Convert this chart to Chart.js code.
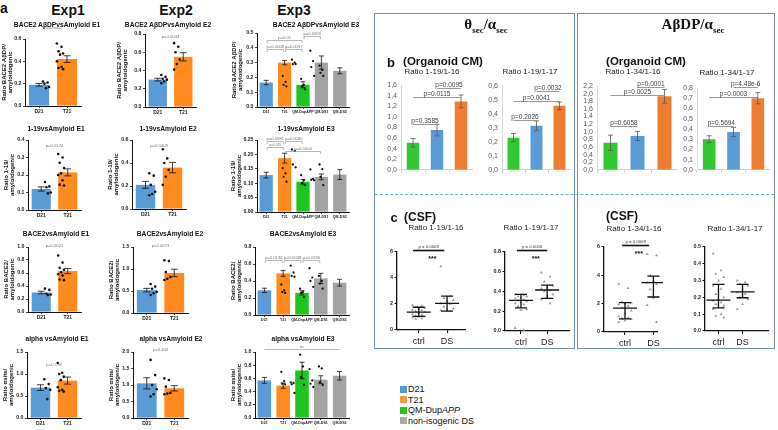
<!DOCTYPE html>
<html>
<head>
<meta charset="utf-8">
<script src="https://cdn.jsdelivr.net/npm/chart.js@4.4.0/dist/chart.umd.min.js"></script>
<style>
  body { margin: 0; background: #fff; }
  #page { position: relative; width: 778px; height: 430px; overflow: hidden; font-family: 'Liberation Sans', Arial, sans-serif; color: #111; }
  canvas { position: absolute; }
  .t { position: absolute; white-space: nowrap; transform: translate(-50%, -50%); line-height: 1; }
  .box { position: absolute; border: 1.3px solid #6d8fbd; box-sizing: border-box; }
  .sq { position: absolute; width: 7px; height: 7px; }
  .lg { position: absolute; font-size: 9px; line-height: 1; transform: translateY(-50%); }
</style>
</head>
<body>
<div id="page"></div>
<script>
// ---------- data ----------
const grp2 = ['D21', 'T21'];
const grp5 = ['D21', 'T21', 'QM-DupAPP', 'QM-DS1', 'QM-DS2'];

// BACE2 AβDP vs amyloidogenic
const dpE1Mean = [0.19, 0.42], dpE1Sem = [0.012, 0.03];
const dpE1Pts = [[0.22, 0.21, 0.20, 0.17, 0.16], [0.56, 0.53, 0.49, 0.47, 0.46, 0.40, 0.35, 0.34, 0.33]];
const dpE2Mean = [0.30, 0.55], dpE2Sem = [0.015, 0.045];
const dpE2Pts = [[0.35, 0.33, 0.31, 0.30, 0.28, 0.26], [0.70, 0.66, 0.60, 0.52, 0.47, 0.41]];
const dpE3Mean = [0.165, 0.30, 0.15, 0.30, 0.245], dpE3Sem = [0.015, 0.015, 0.02, 0.045, 0.02];
const dpE3Pts = [[0.21, 0.17, 0.15, 0.14], [0.32, 0.30, 0.29, 0.29], [0.19, 0.15, 0.14, 0.12], [0.38, 0.31, 0.27, 0.21], [0.28, 0.25, 0.23, 0.21]];
const dpP = ['p=0.0002', 'p=0.0044', 'p=0.0008', 'p=0.0057', 'p=0.01', 'p=0.0056'];

// 1-19 vs amyloidogenic
const n19E1Mean = [0.12, 0.215], n19E1Sem = [0.012, 0.02];
const n19E1Pts = [[0.16, 0.135, 0.13, 0.10, 0.095], [0.32, 0.30, 0.27, 0.24, 0.21, 0.20, 0.17, 0.145, 0.14]];
const n19E2Mean = [0.21, 0.36], n19E2Sem = [0.03, 0.045];
const n19E2Pts = [[0.31, 0.29, 0.21, 0.15, 0.13, 0.12], [0.52, 0.44, 0.40, 0.34, 0.28, 0.21]];
const n19E3Mean = [0.128, 0.187, 0.105, 0.122, 0.13], n19E3Sem = [0.01, 0.017, 0.008, 0.01, 0.017];
const n19E3Pts = [[0.152, 0.134, 0.122, 0.105], [0.217, 0.212, 0.165, 0.155], [0.128, 0.11, 0.10, 0.093], [0.148, 0.115, 0.112, 0.110], [0.165, 0.149, 0.122, 0.093]];
const n19P = ['p=0.0174', 'p=0.0408', 'p=0.0881', 'p=0.0080', 'p=0.025', 'p=0.0404'];

// BACE2 vs amyloidogenic
const bcE1Mean = [0.30, 0.63], bcE1Sem = [0.02, 0.04];
const bcE1Pts = [[0.36, 0.34, 0.28, 0.27, 0.26], [0.87, 0.76, 0.68, 0.65, 0.61, 0.58, 0.56, 0.50, 0.49]];
const bcE2Mean = [0.52, 0.91], bcE2Sem = [0.04, 0.085];
const bcE2Pts = [[0.66, 0.60, 0.55, 0.48, 0.45, 0.41], [1.2, 1.18, 0.93, 0.82, 0.78, 0.75]];
const bcE3Mean = [0.29, 0.49, 0.26, 0.43, 0.38], bcE3Sem = [0.025, 0.035, 0.025, 0.06, 0.04];
const bcE3Pts = [[0.36, 0.29, 0.27, 0.26], [0.58, 0.50, 0.46, 0.45], [0.31, 0.27, 0.26, 0.21], [0.55, 0.44, 0.40, 0.33], [0.46, 0.40, 0.37, 0.31]];
const bcP = ['p=0.0021', 'p=0.0073', 'p=0.0136', 'p=0.0038', 'p=0.0336'];

// alpha vs amyloidogenic
const alE1Mean = [0.69, 0.85], alE1Sem = [0.065, 0.08];
const alE1Pts = [[0.88, 0.77, 0.68, 0.64, 0.43], [1.25, 1.03, 1.0, 0.94, 0.86, 0.70, 0.64, 0.62, 0.60]];
const alE2Mean = [1.05, 0.90], alE2Sem = [0.17, 0.08];
const alE2Pts = [[1.76, 1.30, 1.0, 0.87, 0.72, 0.65], [1.2, 1.15, 0.95, 0.76, 0.74, 0.72]];
const alE3Mean = [0.57, 0.49, 0.72, 0.58, 0.64], alE3Sem = [0.045, 0.04, 0.125, 0.06, 0.065];
const alE3Pts = [[0.70, 0.56, 0.52, 0.51], [0.54, 0.53, 0.51, 0.38], [0.96, 0.78, 0.62, 0.50], [0.74, 0.57, 0.52, 0.47], [0.78, 0.75, 0.54, 0.50]];
const alP = ['p=0.178', 'p=0.444', 'ns'];

// organoid CM (b)
const bGroups = ['QM-DupAPP', 'D21', 'T21'];
const b1Mean = [0.51, 0.75, 1.29], b1Err = [0.08, 0.11, 0.12];
const b2Mean = [0.23, 0.315, 0.458], b2Err = [0.03, 0.035, 0.027];
const b3Mean = [0.71, 0.89, 1.93], b3Err = [0.2, 0.12, 0.18];
const b4Mean = [0.30, 0.37, 0.70], b4Err = [0.033, 0.045, 0.055];
const b1P = ['p=0.3585', 'p=0.0115', 'p=0.0095'];
const b2P = ['p=0.2026', 'p=0.0041', 'p=0.0032'];
const b3P = ['p=0.6058', 'p=0.0025', 'p=0.0001'];
const b4P = ['p=0.5694', 'p=0.0003', 'p=4.48e-6'];

// CSF (c)
const cGroups = ['ctrl', 'DS'];
const c1Ctrl = [1.9, 1.85, 1.75, 1.7, 1.6, 1.55, 1.5, 1.45, 1.4, 1.3, 1.2, 1.15, 1.1, 1.05, 1.0, 0.95, 0.9, 0.85];
const c1DS = [4.9, 2.6, 2.45, 2.3, 2.2, 2.05, 2.0, 1.8, 1.65, 1.55, 1.5, 1.45];
const c1Med = [1.38, 2.05], c1Q1 = [1.05, 1.45], c1Q3 = [1.75, 2.6];
const c2Ctrl = [0.37, 0.36, 0.35, 0.35, 0.34, 0.33, 0.32, 0.31, 0.30, 0.29, 0.28, 0.27, 0.25, 0.22, 0.21, 0.03, 0.01];
const c2DS = [0.59, 0.55, 0.50, 0.46, 0.44, 0.43, 0.41, 0.40, 0.37, 0.35, 0.32, 0.28];
const c2Med = [0.31, 0.415], c2Q1 = [0.235, 0.33], c2Q3 = [0.37, 0.465];
const c3Ctrl = [3.4, 3.1, 2.1, 2.05, 2.0, 1.95, 1.85, 1.7, 1.5, 1.3, 1.1, 1.0, 0.95, 0.9, 0.8, 0.7];
const c3DS = [5.5, 5.4, 4.0, 3.9, 3.6, 3.5, 3.4, 3.0, 2.5, 2.4, 1.9, 0.7];
const c3Med = [1.69, 3.48], c3Q1 = [0.92, 2.47], c3Q3 = [2.07, 3.95];
const c4Ctrl = [0.46, 0.36, 0.34, 0.32, 0.30, 0.27, 0.25, 0.22, 0.20, 0.19, 0.18, 0.17, 0.16, 0.15, 0.14, 0.13, 0.10, 0.09, 0.08];
const c4DS = [0.30, 0.29, 0.28, 0.27, 0.25, 0.23, 0.22, 0.20, 0.19, 0.16, 0.13];
const c4Med = [0.184, 0.233], c4Q1 = [0.138, 0.198], c4Q3 = [0.277, 0.277];
const cP = ['p = 0.0009', 'p = 0.0006', 'p = 0.0009'];

// ---------- drawing ----------
const fam = "'Liberation Sans', Arial, sans-serif";
const cBlue = '#5b9bd5', cOrange = '#ff8a1e', cGreen = '#1fc41f', cGray = '#a3a3a3';
const col2 = [cBlue, cOrange];
const col5 = [cBlue, cOrange, cGreen, cGray, cGray];
const bColors = ['#34c734', '#5b9bd5', '#ed7d31'];
const page = document.getElementById('page');

// horizontal spread of the dots inside a group
function spread(k, w) { return ((((k * 3) % 5) - 2) / 2) * w; }

// evenly spaced y ticks from 0 to max (avoids float drop of the last tick)
function yTicks(max, step) {
  return s => {
    const t = [];
    for (let i = 0; i * step <= max + 1e-9; i++) t.push({ value: +(i * step).toFixed(4) });
    s.ticks = t;
  };
}

function makeCanvas(left, top, w, h) {
  const c = document.createElement('canvas');
  c.width = w; c.height = h;
  c.style.left = left + 'px'; c.style.top = top + 'px';
  c.style.width = w + 'px'; c.style.height = h + 'px';
  page.appendChild(c);
  return c.getContext('2d');
}

function txt(x, y, html, css) {
  const d = document.createElement('div');
  d.className = 't';
  d.innerHTML = html;
  d.style.cssText = 'left:' + x + 'px;top:' + y + 'px;' + (css || '');
  page.appendChild(d);
}

const semBars = {
  id: 'semBars',
  afterDatasetsDraw(chart, args, o) {
    if (!o.sem) return;
    const ctx = chart.ctx, ys = chart.scales.y;
    const vals = chart.data.datasets[0].data;
    ctx.save();
    ctx.strokeStyle = o.color; ctx.lineWidth = o.width;
    chart.getDatasetMeta(0).data.forEach((bar, i) => {
      const y1 = ys.getPixelForValue(vals[i] + o.sem[i]);
      const y2 = ys.getPixelForValue(vals[i] - o.sem[i]);
      ctx.beginPath();
      ctx.moveTo(bar.x, y1); ctx.lineTo(bar.x, y2);
      ctx.moveTo(bar.x - o.cap, y1); ctx.lineTo(bar.x + o.cap, y1);
      ctx.moveTo(bar.x - o.cap, y2); ctx.lineTo(bar.x + o.cap, y2);
      ctx.stroke();
    });
    ctx.restore();
  }
};

const pBrackets = {
  id: 'pBrackets',
  afterDatasetsDraw(chart, args, o) {
    if (!o.items) return;
    const ctx = chart.ctx, xs = chart.scales.x, ys = chart.scales.y;
    ctx.save();
    ctx.textAlign = 'center';
    o.items.forEach(it => {
      const x1 = xs.getPixelForValue(it.a), x2 = xs.getPixelForValue(it.b);
      const y = Math.round(ys.getPixelForValue(it.y)) + 0.5;
      ctx.strokeStyle = o.line || o.color;
      ctx.lineWidth = it.s === 'thick' ? 1.6 : (o.lw || 0.6);
      ctx.beginPath();
      if (it.s === 'br') {
        ctx.moveTo(x1 + 1, y + 2.5); ctx.lineTo(x1 + 1, y); ctx.lineTo(x2 - 1, y); ctx.lineTo(x2 - 1, y + 2.5);
      } else if (it.s !== 'tx') {
        ctx.moveTo(x1, y); ctx.lineTo(x2, y);
      }
      ctx.stroke();
      ctx.fillStyle = o.color;
      ctx.textBaseline = 'bottom';
      ctx.font = (it.f || o.font) + 'px ' + fam;
      ctx.fillText(it.t, (x1 + x2) / 2, y - (o.gap || 1));
      if (it.star) {
        ctx.font = 'bold 7px ' + fam;
        ctx.fillStyle = '#111';
        ctx.textBaseline = 'top';
        ctx.fillText(it.star, x1 + (x2 - x1) * 0.62, y + 5);
      }
    });
    ctx.restore();
  }
};

const medIqr = {
  id: 'medIqr',
  afterDatasetsDraw(chart, args, o) {
    if (!o.med) return;
    const ctx = chart.ctx, xs = chart.scales.x, ys = chart.scales.y;
    ctx.save();
    ctx.strokeStyle = '#111'; ctx.lineWidth = 1.3;
    o.med.forEach((m, i) => {
      const x = xs.getPixelForValue(i);
      const ym = ys.getPixelForValue(m), y1 = ys.getPixelForValue(o.q1[i]), y3 = ys.getPixelForValue(o.q3[i]);
      ctx.beginPath();
      ctx.moveTo(x - 12, ym); ctx.lineTo(x + 12, ym);
      ctx.moveTo(x, y1); ctx.lineTo(x, y3);
      ctx.moveTo(x - 6, y1); ctx.lineTo(x + 6, y1);
      ctx.moveTo(x - 6, y3); ctx.lineTo(x + 6, y3);
      ctx.stroke();
    });
    ctx.restore();
  }
};

Chart.register(semBars, pBrackets, medIqr);

const baseOpts = {
  responsive: false,
  animation: false,
  events: []
};

// panel a: bar + dots (GraphPad style)
function aPanel(fr, labels, mean, sem, pts, colors, yMax, yStep, dec, yTitle, notes) {
  const [ax, top, right, bottom, yw] = fr;
  const padTop = 12, xh = 10, n = labels.length, small = n > 2;
  const ctx = makeCanvas(ax - yw, top - padTop, yw + right - ax, padTop + bottom - top + xh);
  const dots = [];
  pts.forEach((g, gi) => g.forEach((v, k) => dots.push({ x: gi + spread(k, small ? 0.2 : 0.22), y: v })));
  new Chart(ctx, {
    type: 'bar',
    data: {
      labels: labels,
      datasets: [
        { data: mean, backgroundColor: colors, grouped: false, barPercentage: 0.72, categoryPercentage: 1, order: 2 },
        { type: 'scatter', data: dots, xAxisID: 'xd', pointRadius: small ? 1.15 : 1.3, backgroundColor: '#111', borderWidth: 0, order: 1 }
      ]
    },
    options: Object.assign({}, baseOpts, {
      layout: { padding: { top: padTop, right: 0, left: 0, bottom: 0 } },
      plugins: {
        legend: { display: false }, tooltip: { enabled: false },
        semBars: { sem: sem, color: '#111', width: 0.8, cap: small ? 2.5 : 3.5 },
        pBrackets: { items: notes, font: 4.2, color: '#777', line: '#888' }
      },
      scales: {
        x: {
          type: 'category', offset: true,
          grid: { drawOnChartArea: false, offset: false, tickLength: 2, color: '#111', lineWidth: 0.8 },
          border: { color: '#111', width: 1 },
          ticks: { autoSkip: false, maxRotation: 0, minRotation: 0, padding: 1, color: '#222',
            font: { family: fam, size: small ? 3.6 : 5, weight: 'bold' } },
          afterFit: s => { s.height = xh; }
        },
        xd: { type: 'linear', display: false, min: -0.5, max: n - 0.5 },
        y: {
          min: 0, max: yMax,
          afterBuildTicks: yTicks(yMax, yStep),
          grid: { drawOnChartArea: false, tickLength: 2, color: '#111', lineWidth: 0.8 },
          border: { color: '#111', width: 1 },
          ticks: { autoSkip: false, padding: 1.5, color: '#222',
            font: { family: fam, size: 5.2, weight: 'bold' }, callback: v => v.toFixed(dec) },
          title: { display: true, text: yTitle, color: '#111', padding: { top: 1, bottom: 0 },
            font: { family: fam, size: 6, weight: 'bold', lineHeight: 1.05 } },
          afterFit: s => { s.width = yw; }
        }
      }
    })
  });
}

// panel b: Excel style bars
function bPanel(fr, mean, err, yMax, yStep, notes) {
  const [ax, top, right, bottom, yw] = fr;
  const padTop = 12, xh = 5;
  const ctx = makeCanvas(ax - yw, top - padTop, yw + right - ax, padTop + bottom - top + xh);
  new Chart(ctx, {
    type: 'bar',
    data: { labels: bGroups, datasets: [{ data: mean, backgroundColor: bColors, grouped: false, barPercentage: 0.52, categoryPercentage: 1 }] },
    options: Object.assign({}, baseOpts, {
      layout: { padding: { top: padTop, right: 0, left: 0, bottom: 0 } },
      plugins: {
        legend: { display: false }, tooltip: { enabled: false },
        semBars: { sem: err, color: '#595959', width: 0.8, cap: 2.5 },
        pBrackets: { items: notes, font: 6.5, color: '#404040', line: '#808080', lw: 0.8, gap: 0.5 }
      },
      scales: {
        x: {
          grid: { drawOnChartArea: false, offset: true, tickLength: 3, color: '#cfcfcf' },
          border: { color: '#cfcfcf' },
          ticks: { display: false },
          afterFit: s => { s.height = xh; }
        },
        y: {
          min: 0, max: yMax,
          afterBuildTicks: yTicks(yMax, yStep),
          grid: { display: false, drawTicks: false, tickLength: 0 },
          border: { display: true, color: '#d9d9d9' },
          ticks: { autoSkip: false, padding: 4, color: '#595959', font: { family: fam, size: 7 },
            callback: v => v.toFixed(1).replace('.', ',') },
          afterFit: s => { s.width = yw; }
        }
      }
    })
  });
}

// panel c: CSF scatter with median + IQR
function cPanel(fr, xr, ctrl, ds, med, q1, q3, yMax, yStep, dec, notes) {
  const [ax, top, right, bottom, yw] = fr;
  const padTop = 12, xh = 17;
  const ctx = makeCanvas(ax - yw, top - padTop, yw + right - ax, padTop + bottom - top + xh);
  const pts = [];
  [ctrl, ds].forEach((g, gi) => g.forEach((v, k) => pts.push({ x: gi + spread(k, 0.22), y: v })));
  new Chart(ctx, {
    type: 'scatter',
    data: { datasets: [{ data: pts, pointStyle: 'triangle', pointRadius: 1.7, backgroundColor: '#9a9a9a', borderColor: '#9a9a9a', borderWidth: 0 }] },
    options: Object.assign({}, baseOpts, {
      layout: { padding: { top: padTop, right: 0, left: 0, bottom: 0 } },
      plugins: {
        legend: { display: false }, tooltip: { enabled: false },
        medIqr: { med: med, q1: q1, q3: q3 },
        pBrackets: { items: notes, font: 4.3, color: '#333', line: '#111', gap: 1.5 }
      },
      scales: {
        x: {
          type: 'linear', min: xr[0], max: xr[1],
          afterBuildTicks: s => { s.ticks = cGroups.map((g, i) => ({ value: i })); },
          grid: { drawOnChartArea: false, tickLength: 3, color: '#111', lineWidth: 1.1 },
          border: { color: '#111', width: 1.3 },
          ticks: { callback: (v, i) => cGroups[i], padding: 3, color: '#222', font: { family: fam, size: 9 } },
          afterFit: s => { s.height = xh; }
        },
        y: {
          min: 0, max: yMax,
          afterBuildTicks: yTicks(yMax, yStep),
          grid: { drawOnChartArea: false, tickLength: 2.5, color: '#111', lineWidth: 1.1 },
          border: { color: '#111', width: 1.3 },
          ticks: { autoSkip: false, padding: 1.5, color: '#222', font: { family: fam, size: 5.4, weight: 'bold' },
            callback: v => v.toFixed(dec) },
          afterFit: s => { s.width = yw; }
        }
      }
    })
  });
}

// ---- section a ----
const tDp = ['Ratio BACE2 AβDP/', 'amyloidogenic'];
const t19 = ['Ratio 1-19/', 'amyloidogenic'];
const tBc = ['Ratio BACE2/', 'amyloidogenic'];
const tAl = ['Ratio αsite/', 'amyloidogenic'];

aPanel([25, 39, 85, 106, 25], grp2, dpE1Mean, dpE1Sem, dpE1Pts, col2, 0.6, 0.2, 1, tDp,
  [{ a: 0, b: 1, y: 0.68, t: dpP[0], s: 'tx' }]);
aPanel([145, 34, 200, 107, 30], grp2, dpE2Mean, dpE2Sem, dpE2Pts, col2, 0.8, 0.2, 1, tDp,
  [{ a: 0, b: 1, y: 0.745, t: dpP[1], s: 'tx' }]);
aPanel([257, 33, 353, 107, 27], grp5, dpE3Mean, dpE3Sem, dpE3Pts, col5, 0.5, 0.1, 1, tDp,
  [{ a: 0, b: 1, y: 0.39, t: dpP[2], s: 'br' }, { a: 1, b: 2, y: 0.39, t: dpP[3], s: 'br' },
   { a: 0, b: 2, y: 0.45, t: dpP[4], s: 'br' }, { a: 2, b: 3, y: 0.48, t: dpP[5], s: 'br' }]);

aPanel([28, 140, 85, 210, 26], grp2, n19E1Mean, n19E1Sem, n19E1Pts, col2, 0.4, 0.1, 1, t19,
  [{ a: 0, b: 1, y: 0.354, t: n19P[0], s: 'tx' }]);
aPanel([132, 140, 190, 209, 26], grp2, n19E2Mean, n19E2Sem, n19E2Pts, col2, 0.6, 0.2, 1, t19,
  [{ a: 0, b: 1, y: 0.53, t: n19P[1], s: 'tx' }]);
aPanel([257, 140, 353, 212, 28], grp5, n19E3Mean, n19E3Sem, n19E3Pts, col5, 0.25, 0.05, 2, t19,
  [{ a: 0, b: 1, y: 0.247, t: n19P[2], s: 'br' }, { a: 1, b: 2, y: 0.247, t: n19P[3], s: 'br' },
   { a: 0, b: 1, y: 0.225, t: n19P[4], s: 'br', f: 3.2 }, { a: 1, b: 3, y: 0.212, t: n19P[5], s: 'br' }]);

aPanel([28, 247, 85, 312, 26], grp2, bcE1Mean, bcE1Sem, bcE1Pts, col2, 1.0, 0.2, 1, tBc,
  [{ a: 0, b: 1, y: 0.98, t: bcP[0], s: 'tx' }]);
aPanel([133, 247, 192, 313, 26], grp2, bcE2Mean, bcE2Sem, bcE2Pts, col2, 1.5, 0.5, 1, tBc,
  [{ a: 0, b: 1, y: 1.48, t: bcP[1], s: 'tx' }]);
aPanel([255, 247, 353, 315, 26], grp5, bcE3Mean, bcE3Sem, bcE3Pts, col5, 0.8, 0.2, 1, tBc,
  [{ a: 0, b: 1, y: 0.65, t: bcP[2], s: 'br' }, { a: 1, b: 2, y: 0.65, t: bcP[3], s: 'br' },
   { a: 2, b: 3, y: 0.65, t: bcP[4], s: 'br' }]);

aPanel([27, 352, 85, 418, 26], grp2, alE1Mean, alE1Sem, alE1Pts, col2, 1.5, 0.5, 1, tAl,
  [{ a: 0, b: 1, y: 1.16, t: alP[0], s: 'tx' }]);
aPanel([133, 352, 192, 418, 26], grp2, alE2Mean, alE2Sem, alE2Pts, col2, 2.0, 0.5, 1, tAl,
  [{ a: 0, b: 1, y: 2.0, t: alP[1], s: 'tx' }]);
aPanel([255, 352, 353, 418, 26], grp5, alE3Mean, alE3Sem, alE3Pts, col5, 1.0, 0.2, 1, tAl,
  [{ a: 0, b: 4, y: 1.045, t: alP[2], s: 'ln' }]);

// ---- section b ----
bPanel([401, 85, 473, 173, 20], b1Mean, b1Err, 1.6, 0.2,
  [{ a: 0, b: 1, y: 0.87, t: b1P[0], s: 'ln' }, { a: 0, b: 2, y: 1.38, t: b1P[1], s: 'ln' }, { a: 1, b: 2, y: 1.55, t: b1P[2], s: 'ln' }]);
bPanel([502, 86, 571, 173, 18], b2Mean, b2Err, 0.6, 0.1,
  [{ a: 0, b: 1, y: 0.36, t: b2P[0], s: 'ln' }, { a: 0, b: 2, y: 0.49, t: b2P[1], s: 'ln' }, { a: 1, b: 2, y: 0.566, t: b2P[2], s: 'ln' }]);
bPanel([597, 86, 678, 173, 19], b3Mean, b3Err, 2.2, 0.2,
  [{ a: 0, b: 1, y: 1.14, t: b3P[0], s: 'ln' }, { a: 0, b: 2, y: 1.97, t: b3P[1], s: 'ln' }, { a: 1, b: 2, y: 2.18, t: b3P[2], s: 'ln' }]);
bPanel([697, 88, 770, 173, 18], b4Mean, b4Err, 0.8, 0.1,
  [{ a: 0, b: 1, y: 0.43, t: b4P[0], s: 'ln' }, { a: 0, b: 2, y: 0.71, t: b4P[1], s: 'ln' }, { a: 1, b: 2, y: 0.81, t: b4P[2], s: 'ln' }]);

// ---- section c ----
cPanel([397, 252, 470, 330, 10], [-0.77, 1.67], c1Ctrl, c1DS, c1Med, c1Q1, c1Q3, 6, 2, 0,
  [{ a: -0.2, b: 0.9, y: 6.15, t: cP[0], s: 'thick', star: '***' }]);
cPanel([505, 252, 574, 331, 13], [-0.61, 1.87], c2Ctrl, c2DS, c2Med, c2Q1, c2Q3, 0.8, 0.2, 1,
  [{ a: -0.15, b: 1.0, y: 0.82, t: cP[1], s: 'thick', star: '***' }]);
cPanel([604, 247, 663, 332, 10], [-0.74, 1.16], c3Ctrl, c3DS, c3Med, c3Q1, c3Q3, 6, 2, 0,
  [{ a: -0.1, b: 0.85, y: 6.14, t: cP[2], s: 'thick', star: '***' }]);
cPanel([705, 247, 773, 331, 13], [-0.56, 2.1], c4Ctrl, c4DS, c4Med, c4Q1, c4Q3, 0.5, 0.1, 1, []);

// ---- text, frames, legend ----
const hA = 'font-weight:bold;font-size:14px;';
txt(4, 8, 'a', hA);
txt(68, 10, 'Exp1', hA); txt(176, 10, 'Exp2', hA); txt(294, 10, 'Exp3', hA);
const pt = 'font-weight:bold;font-size:6.7px;';
txt(57, 25, 'BACE2 AβDPvsAmyloid E1', pt); txt(168, 25, 'BACE2 AβDPvsAmyloid E2', pt); txt(316, 25, 'BACE2 AβDPvsAmyloid E3', pt);
txt(56, 129, '1-19vsAmyloid E1', pt); txt(168, 129, '1-19vsAmyloid E2', pt); txt(306, 129, '1-19vsAmyloid E3', pt);
txt(56, 234, 'BACE2vsAmyloid E1', pt); txt(170, 234, 'BACE2vsAmyloid E2', pt); txt(303, 234, 'BACE2vsAmyloid E3', pt);
txt(57, 339, 'alpha vsAmyloid E1', pt); txt(171, 339, 'alpha vsAmyloid E2', pt); txt(303, 339, 'alpha vsAmyloid E3', pt);

['left:374px;top:13px;width:201px;height:336px;', 'left:577px;top:13px;width:198px;height:336px;'].forEach(css => {
  const d = document.createElement('div'); d.className = 'box'; d.style.cssText = css; page.appendChild(d);
});
const dash = document.createElement('div');
dash.style.cssText = 'position:absolute;left:375px;top:194px;width:399px;height:0;border-top:1.2px dashed #5ab4e6;';
page.appendChild(dash);

const serif = "font-family:'Liberation Serif','DejaVu Serif',serif;font-weight:bold;font-size:15px;";
txt(486, 26, 'θ<sub style="font-size:9px">sec</sub>/α<sub style="font-size:9px">sec</sub>', serif);
txt(693, 26, 'AβDP/α<sub style="font-size:9px">sec</sub>', serif);
txt(391, 62, 'b', 'font-weight:bold;font-size:13px;');
txt(443, 62, '(Organoid CM)', 'font-weight:bold;font-size:11.5px;');
txt(646, 62, '(Organoid CM)', 'font-weight:bold;font-size:11.5px;');
const rt = 'font-size:8px;color:#222;';
txt(432, 72, 'Ratio 1-19/1-16', rt); txt(530, 72, 'Ratio 1-19/1-17', rt);
txt(633, 72, 'Ratio 1-34/1-16', rt); txt(727, 73, 'Ratio 1-34/1-17', rt);
txt(394, 217, 'c', 'font-weight:bold;font-size:13px;');
txt(420, 217, '(CSF)', 'font-weight:bold;font-size:12px;');
txt(622, 216, '(CSF)', 'font-weight:bold;font-size:12px;');
txt(436, 228, 'Ratio 1-19/1-16', rt); txt(531, 228, 'Ratio 1-19/1-17', rt);
txt(634, 229, 'Ratio 1-34/1-16', rt); txt(735, 229, 'Ratio 1-34/1-17', rt);

const legend = [['D21', '#4f97da'], ['T21', '#f79646'], ['QM-Dup<i>APP</i>', '#20c520'], ['non-isogenic DS', '#a9a9a9']];
legend.forEach((l, i) => {
  const y = 389 + i * 10.6;
  const s = document.createElement('div'); s.className = 'sq';
  s.style.cssText = 'left:400px;top:' + (y - 3.5) + 'px;background:' + l[1] + ';';
  page.appendChild(s);
  const t = document.createElement('div'); t.className = 'lg';
  t.style.cssText = 'left:408px;top:' + y + 'px;';
  t.innerHTML = l[0];
  page.appendChild(t);
});
</script>
</body>
</html>
